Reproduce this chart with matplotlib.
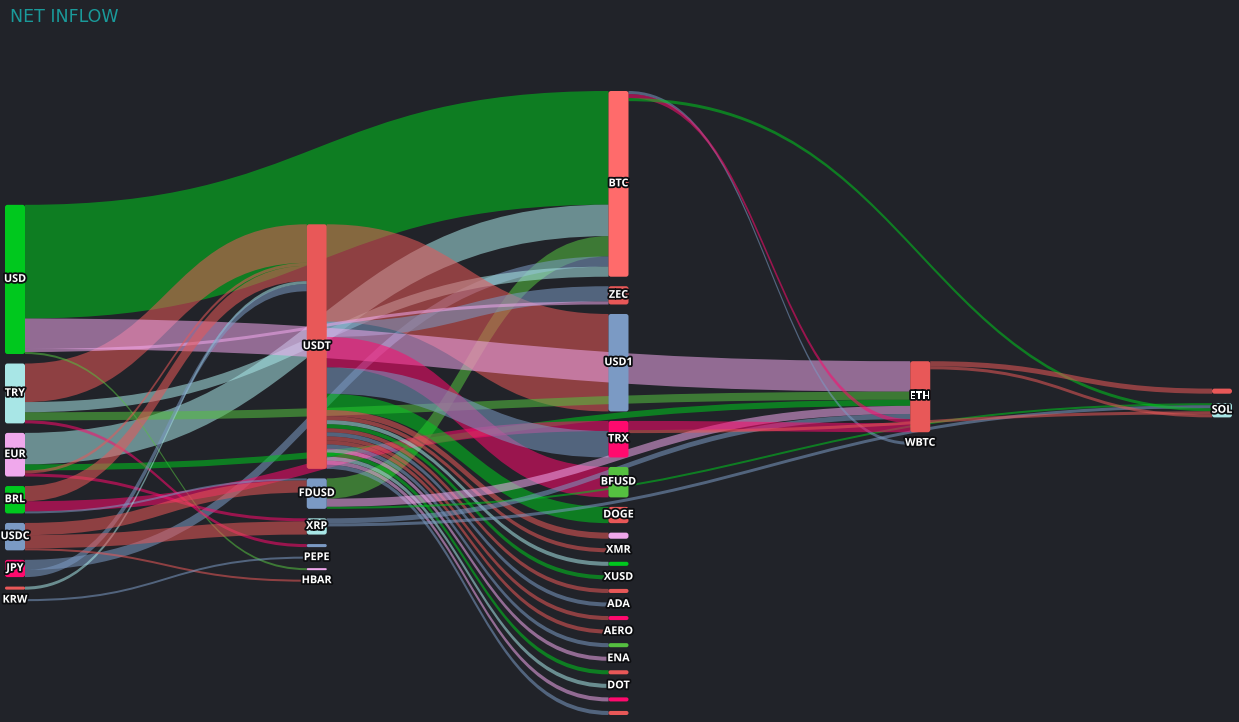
import matplotlib
matplotlib.use('Agg')
import matplotlib.pyplot as plt
from matplotlib.path import Path
from matplotlib.patches import PathPatch, FancyBboxPatch
import matplotlib.patheffects as pe

# ---- data ----
node_ids = ['USD', 'TRY', 'EUR', 'BRL', 'USDC', 'JPY', 'n0a', 'KRW',
            'USDT', 'FDUSD', 'XRP', 'n1a', 'PEPE', 'n1b', 'HBAR',
            'BTC', 'ZEC', 'USD1', 'TRX', 'BFUSD', 'DOGE', 'n2a', 'XMR', 'n2b',
            'XUSD', 'n2c', 'ADA', 'n2d', 'AERO', 'n2e', 'ENA', 'n2f', 'DOT',
            'n2g', 'n2h',
            'ETH', 'WBTC',
            'n4a', 'SOL']
node_labels = ['USD', 'TRY', 'EUR', 'BRL', 'USDC', 'JPY', '', 'KRW',
               'USDT', 'FDUSD', 'XRP', '', 'PEPE', '', 'HBAR',
               'BTC', 'ZEC', 'USD1', 'TRX', 'BFUSD', 'DOGE', '', 'XMR', '',
               'XUSD', '', 'ADA', '', 'AERO', '', 'ENA', '', 'DOT',
               '', '',
               'ETH', 'WBTC',
               '', 'SOL']
node_cols = [0] * 8 + [1] * 7 + [2] * 20 + [3] * 2 + [4] * 2

GREEN = '#00c81e'
LGREEN = '#55c040'
TEAL = '#a8e6e6'
PINK = '#f0a8ec'
BLUE = '#7b9ac4'
MAG = '#ff0a6e'
RED = '#e85858'
SALMON = '#ff6b6b'

node_colors = [GREEN, TEAL, PINK, GREEN, BLUE, MAG, RED, PINK,
               RED, BLUE, TEAL, BLUE, BLUE, PINK, TEAL,
               SALMON, RED, BLUE, MAG, LGREEN, RED, PINK, BLUE, GREEN,
               TEAL, RED, BLUE, MAG, TEAL, LGREEN, BLUE, RED, TEAL,
               MAG, RED,
               RED, TEAL,
               RED, TEAL]

# links (order = stacking order at each node)
link_src = ['USD', 'EUR', 'FDUSD', 'JPY', 'TRY', 'TRY',
            'USDT', 'USDT', 'USD', 'USD', 'USD',
            'TRY', 'TRY', 'EUR', 'EUR', 'EUR',
            'BRL', 'BRL', 'BRL', 'n0a', 'JPY',
            'USDC', 'USDC', 'USDC', 'KRW',
            'USDT', 'USDT', 'USDT',
            'USDT', 'USDT', 'USDT', 'USDT', 'USDT', 'USDT', 'USDT',
            'USDT', 'USDT', 'USDT', 'USDT', 'USDT', 'USDT', 'USDT',
            'FDUSD', 'FDUSD', 'XRP', 'XRP',
            'BTC', 'BTC', 'BTC', 'TRX', 'TRX',
            'ETH', 'ETH']
link_tgt = ['BTC', 'BTC', 'BTC', 'BTC', 'USDT', 'BTC',
            'USD1', 'ZEC', 'ETH', 'ZEC', 'n1b',
            'ETH', 'n1a', 'ETH', 'USDT', 'XRP',
            'USDT', 'TRX', 'FDUSD', 'USDT', 'USDT',
            'FDUSD', 'XRP', 'HBAR', 'PEPE',
            'BFUSD', 'TRX', 'DOGE',
            'n2a', 'XMR', 'n2b', 'XUSD', 'n2c', 'ADA', 'n2d',
            'AERO', 'n2e', 'ENA', 'n2f', 'DOT', 'n2g', 'n2h',
            'ETH', 'SOL', 'ETH', 'SOL',
            'WBTC', 'ETH', 'SOL', 'ETH', 'SOL',
            'n4a', 'SOL']
link_val = [112, 31, 20, 10, 38, 10,
            96, 15, 30, 3, 2,
            8, 3, 6, 3, 3,
            15, 10, 2, 3, 7,
            12, 13, 2, 2,
            30, 26, 16,
            6, 4, 4, 4, 4, 4, 4,
            4, 4, 4, 4, 4, 4, 4,
            8, 2, 5, 3,
            3, 4, 3, 9, 3,
            5, 3]
link_colors = [GREEN, TEAL, LGREEN, BLUE, RED, TEAL,
               RED, BLUE, PINK, PINK, LGREEN,
               LGREEN, MAG, GREEN, RED, MAG,
               RED, MAG, BLUE, TEAL, BLUE,
               RED, RED, RED, BLUE,
               MAG, BLUE, GREEN,
               RED, RED, TEAL, GREEN, RED, BLUE, RED,
               RED, BLUE, PINK, GREEN, TEAL, PINK, BLUE,
               PINK, GREEN, BLUE, BLUE,
               BLUE, MAG, GREEN, MAG, RED,
               RED, RED]

# ---- layout ----
W, H = 1239, 722
top, bottom = 91, 715
left, right = 5, 1232
node_w = 20
gap = 9.5
bg = '#212329'

idx = {n: i for i, n in enumerate(node_ids)}
n_nodes = len(node_ids)
sum_in = [0.0] * n_nodes
sum_out = [0.0] * n_nodes
for s, t, v in zip(link_src, link_tgt, link_val):
    sum_out[idx[s]] += v
    sum_in[idx[t]] += v
node_val = [max(a, b) for a, b in zip(sum_in, sum_out)]

n_cols = max(node_cols) + 1
cols = [[i for i in range(n_nodes) if node_cols[i] == c] for c in range(n_cols)]
ky = min((bottom - top - (len(c) - 1) * gap) / sum(node_val[i] for i in c)
         for c in cols)
col_step = (right - left - node_w) / (n_cols - 1)

node_x = [left + node_cols[i] * col_step for i in range(n_nodes)]
node_y = [0.0] * n_nodes
node_h = [node_val[i] * ky for i in range(n_nodes)]
mid = (top + bottom) / 2
for c in cols:
    total = sum(node_h[i] for i in c) + (len(c) - 1) * gap
    y = mid - total / 2
    for i in c:
        node_y[i] = y
        y += node_h[i] + gap

fig = plt.figure(figsize=(W / 100, H / 100), dpi=100)
fig.patch.set_facecolor(bg)
ax = fig.add_axes([0, 0, 1, 1])
ax.set_facecolor(bg)
ax.set_xlim(0, W)
ax.set_ylim(H, 0)
ax.axis('off')

out_off = [0.0] * n_nodes
in_off = [0.0] * n_nodes
for s, t, v, col in zip(link_src, link_tgt, link_val, link_colors):
    si, ti = idx[s], idx[t]
    dy = v * ky
    x1 = node_x[si] + node_w
    x2 = node_x[ti]
    y1 = node_y[si] + out_off[si]
    y2 = node_y[ti] + in_off[ti]
    out_off[si] += dy
    in_off[ti] += dy
    xm = (x1 + x2) / 2
    verts = [(x1, y1), (xm, y1), (xm, y2), (x2, y2),
             (x2, y2 + dy), (xm, y2 + dy), (xm, y1 + dy), (x1, y1 + dy),
             (x1, y1)]
    codes = [Path.MOVETO, Path.CURVE4, Path.CURVE4, Path.CURVE4,
             Path.LINETO, Path.CURVE4, Path.CURVE4, Path.CURVE4,
             Path.CLOSEPOLY]
    ax.add_patch(PathPatch(Path(verts, codes), facecolor=col, edgecolor='none',
                           alpha=0.55, zorder=1))

for i in range(n_nodes):
    h = node_h[i]
    r = min(2.5, h / 2)
    ax.add_patch(FancyBboxPatch((node_x[i], node_y[i]), node_w, h,
                                boxstyle=f'round,pad=0,rounding_size={r}',
                                facecolor=node_colors[i], edgecolor='none',
                                zorder=2))
    if node_labels[i]:
        ax.text(node_x[i] + node_w / 2, node_y[i] + h / 2, node_labels[i],
                ha='center', va='center', fontsize=7.8, color='white',
                fontweight='bold', family='Open Sans', zorder=3,
                path_effects=[pe.withStroke(linewidth=2.6, foreground='#0c0d10')])

fig.text(10 / W, 1 - 17 / H, 'NET INFLOW', color='#1a9a9a', fontsize=12.5,
         ha='left', va='center', family='DejaVu Sans')

fig.savefig('out.png', dpi=100, facecolor=bg)
